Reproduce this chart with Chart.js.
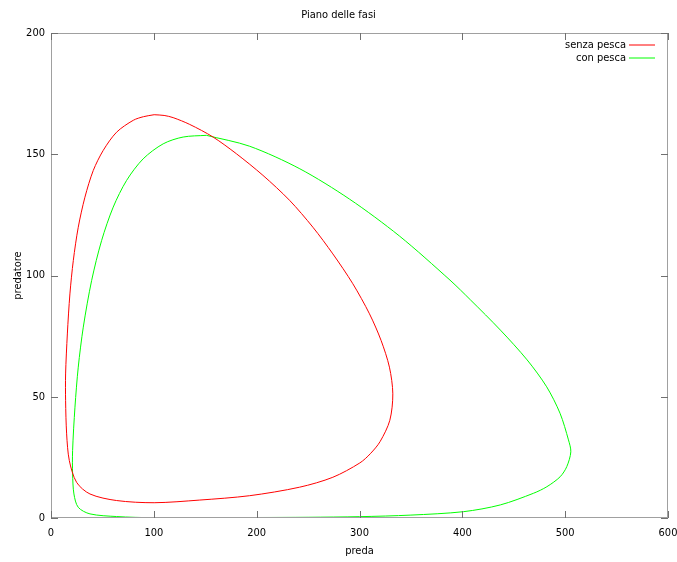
<!DOCTYPE html>
<html>
<head>
<meta charset="utf-8">
<title>Piano delle fasi</title>
<script src="https://cdn.jsdelivr.net/npm/chart.js@4/dist/chart.umd.min.js"></script>
<style>
  html, body { margin: 0; padding: 0; background: #fff; }
  #wrap { width: 677px; height: 562px; }
</style>
</head>
<body>
<div id="wrap"><canvas id="phaseChart" width="677" height="562"></canvas></div>
<script>
// orbita senza pesca: preda (x) e predatore (y)
const senzaPescaPreda = [100.3, 110, 118.8, 134.9, 157.6, 180.3, 206.1, 232, 254.7, 274.1, 293.5, 309.7, 321, 329.1, 332.4, 329.5, 320, 310.5, 300.3, 274.1, 241.7, 193.2, 144.7, 100.3, 63.8, 37.9, 24.9, 17.8, 15.2, 14.2, 14.2, 15.9, 18.4, 21.7, 26.5, 33, 41.1, 50.8, 63.8, 80, 90, 100.3];
const senzaPescaPredatore = [166.3, 166, 165.1, 162.3, 157.1, 150.2, 141.3, 131, 119.9, 108.9, 96.6, 84.2, 73.2, 62.2, 51.2, 40.3, 31.5, 26.5, 22.7, 16.8, 12.7, 9.2, 7.4, 6.3, 7.2, 9.9, 14.7, 23.7, 34.7, 48.4, 59.4, 75.9, 92.4, 106.2, 119.9, 132.3, 143.3, 151.6, 159.1, 164, 165.5, 166.3];

// orbita con pesca
const conPescaPreda = [151.1, 193.2, 242, 290.3, 338.8, 388, 408, 437, 463, 482, 495, 503.2, 505.5, 501.6, 495.1, 482.2, 469.2, 437, 401, 350, 300, 250, 200, 150, 100.3, 63.8, 37.9, 26.5, 22.3, 21, 21, 23.3, 26.5, 31.4, 39.5, 49.2, 60.5, 73.5, 89.6, 109.1, 128.5, 151.1];
const conPescaPredatore = [157.8, 153.3, 144, 131.5, 116.3, 98.1, 89.9, 77.5, 65.2, 54.1, 43.2, 32.2, 27.3, 21.2, 17, 12.9, 10.2, 5.4, 2.6, 1.2, 0.55, 0.3, 0.2, 0.15, 0.1, 0.6, 1.7, 4.4, 9.9, 18.2, 27.8, 45.7, 62.2, 78.7, 97.9, 114.4, 128.2, 139.2, 148.1, 154.3, 157.1, 157.8];

const seriesNames = ['senza pesca', 'con pesca'];
const seriesColors = ['#ff0000', '#00ff00'];

const xTicks = [0, 100, 200, 300, 400, 500, 600];
const yTicks = [0, 50, 100, 150, 200];

const FONT = "'DejaVu Sans Condensed', 'DejaVu Sans', sans-serif";

function toPoints(xs, ys) {
    return xs.map((x, i) => ({ x: x, y: ys[i] }));
}

// riquadro, tacche interne su tutti e quattro i lati e legenda in alto a destra
const gnuplotFrame = {
    id: 'gnuplotFrame',
    afterDatasetsDraw(chart) {
        const ctx = chart.ctx;
        const a = chart.chartArea;
        const xs = chart.scales.x;
        const ys = chart.scales.y;
        const len = 7;
        ctx.save();
        ctx.lineWidth = 1;
        ctx.strokeStyle = '#a0a0a0';
        ctx.strokeRect(a.left + 0.5, a.top + 0.5, a.right - a.left - 1, a.bottom - a.top - 1);
        ctx.strokeStyle = '#707070';
        ctx.beginPath();
        xTicks.forEach(v => {
            const px = Math.round(xs.getPixelForValue(v)) + 0.5;
            ctx.moveTo(px, a.bottom);
            ctx.lineTo(px, a.bottom - len);
            ctx.moveTo(px, a.top);
            ctx.lineTo(px, a.top + len);
        });
        yTicks.forEach(v => {
            const py = Math.round(ys.getPixelForValue(v)) + 0.5;
            ctx.moveTo(a.left, py);
            ctx.lineTo(a.left + len, py);
            ctx.moveTo(a.right, py);
            ctx.lineTo(a.right - len, py);
        });
        ctx.stroke();

        // legenda: campione di linea sfumato su due pixel, come le curve
        ctx.font = '11px ' + FONT;
        ctx.textAlign = 'right';
        ctx.textBaseline = 'middle';
        seriesNames.forEach((name, i) => {
            const y = a.top + 12 + i * 13;
            ctx.fillStyle = '#000';
            ctx.fillText(name, a.right - 42, y);
            ctx.strokeStyle = seriesColors[i];
            ctx.beginPath();
            ctx.moveTo(a.right - 39, Math.round(y));
            ctx.lineTo(a.right - 13, Math.round(y));
            ctx.stroke();
        });
        ctx.restore();
    }
};

const ctx = document.getElementById('phaseChart').getContext('2d');
new Chart(ctx, {
    type: 'scatter',
    data: {
        datasets: seriesNames.map((name, i) => ({
            label: name,
            data: i === 0 ? toPoints(senzaPescaPreda, senzaPescaPredatore)
                          : toPoints(conPescaPreda, conPescaPredatore),
            showLine: true,
            borderColor: seriesColors[i],
            borderWidth: 1,
            pointRadius: 0,
            tension: 0.3
        }))
    },
    options: {
        responsive: false,
        animation: false,
        layout: { padding: { left: 0, right: 0, top: 0, bottom: 0 } },
        plugins: {
            legend: { display: false },
            tooltip: { enabled: false },
            title: {
                display: true,
                text: 'Piano delle fasi',
                color: '#000',
                font: { family: FONT, size: 11, weight: 'normal' },
                padding: { top: 9, bottom: 10.8 }
            }
        },
        scales: {
            x: {
                type: 'linear',
                min: 0,
                max: 600,
                afterBuildTicks: scale => { scale.ticks = xTicks.map(v => ({ value: v })); },
                afterFit: scale => { scale.height = 44; scale.paddingRight = 9; },
                grid: { display: false, drawTicks: false },
                border: { display: false },
                ticks: { color: '#000', padding: 9, font: { family: FONT, size: 11 } },
                title: {
                    display: true,
                    text: 'preda',
                    color: '#000',
                    font: { family: FONT, size: 11 },
                    padding: { top: 0, bottom: 4 }
                }
            },
            y: {
                type: 'linear',
                min: 0,
                max: 200,
                afterBuildTicks: scale => { scale.ticks = yTicks.map(v => ({ value: v })); },
                afterFit: scale => { scale.width = 51; },
                grid: { display: false, drawTicks: false },
                border: { display: false },
                ticks: { color: '#000', padding: 6, font: { family: FONT, size: 11 } },
                title: {
                    display: true,
                    text: 'predatore',
                    color: '#000',
                    font: { family: FONT, size: 11 },
                    padding: { top: 12, bottom: 0 }
                }
            }
        }
    },
    plugins: [gnuplotFrame]
});
</script>
</body>
</html>
